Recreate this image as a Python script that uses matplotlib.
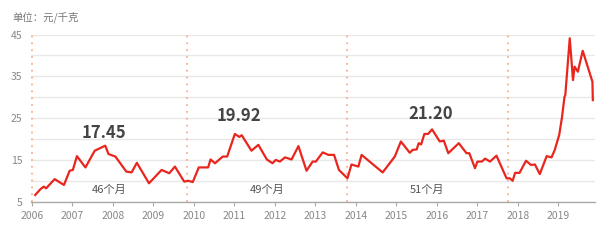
import matplotlib
matplotlib.use("Agg")
import matplotlib.pyplot as plt

plt.rcParams["font.family"] = ["Noto Sans CJK SC", "DejaVu Sans"]

# price series (decimal year, 元/千克)
years = [
    2006.08, 2006.21, 2006.29, 2006.35, 2006.56, 2006.79, 2006.93, 2007.01, 2007.11, 2007.18,
    2007.32, 2007.55, 2007.81, 2007.89, 2008.06, 2008.33, 2008.46, 2008.59, 2008.89, 2009.20,
    2009.39, 2009.53, 2009.76, 2009.86, 2009.97, 2010.12, 2010.35, 2010.41, 2010.52, 2010.71,
    2010.82, 2011.01, 2011.12, 2011.18, 2011.42, 2011.59, 2011.80, 2011.94, 2012.02, 2012.12,
    2012.25, 2012.41, 2012.58, 2012.78, 2012.93, 2013.01, 2013.18, 2013.32, 2013.46, 2013.58,
    2013.79, 2013.89, 2014.06, 2014.14, 2014.66, 2014.96, 2015.11, 2015.33, 2015.40, 2015.50,
    2015.55, 2015.61, 2015.69, 2015.78, 2015.88, 2016.07, 2016.17, 2016.28, 2016.54, 2016.73,
    2016.80, 2016.94, 2017.00, 2017.11, 2017.19, 2017.31, 2017.47, 2017.72, 2017.80, 2017.87,
    2017.93, 2018.04, 2018.20, 2018.32, 2018.42, 2018.54, 2018.71, 2018.83, 2018.91, 2019.02,
    2019.09, 2019.15, 2019.17, 2019.28, 2019.36, 2019.40, 2019.48, 2019.60, 2019.84, 2019.85,
]
prices = [
    6.6, 8.0, 8.6, 8.2, 10.4, 9.0, 12.4, 12.6, 15.9, 15.0,
    13.2, 17.2, 18.4, 16.4, 15.8, 12.2, 12.0, 14.3, 9.4, 12.6,
    11.8, 13.4, 9.8, 10.0, 9.7, 13.2, 13.2, 15.1, 14.2, 15.8,
    15.8, 21.2, 20.5, 20.9, 17.2, 18.6, 15.1, 14.2, 15.0, 14.6,
    15.6, 15.1, 18.3, 12.4, 14.6, 14.6, 16.8, 16.2, 16.2, 12.6,
    10.6, 13.9, 13.4, 16.2, 12.0, 15.8, 19.4, 16.7, 17.4, 17.5,
    19.0, 18.7, 21.2, 21.2, 22.3, 19.4, 19.6, 16.6, 19.0, 16.6,
    16.6, 13.0, 14.6, 14.6, 15.3, 14.6, 16.0, 10.6, 10.6, 10.0,
    11.9, 11.9, 14.8, 13.8, 13.9, 11.6, 15.9, 15.6, 17.4, 21.0,
    25.3, 30.1, 30.5, 44.1, 34.1, 37.3, 36.1, 41.1, 33.7, 29.3,
]

cycle_lines = [2006.0, 2009.82, 2013.77, 2017.75]
peak_labels = ["17.45", "19.92", "21.20"]
peak_pos = [(2007.78, 21.5), (2011.10, 25.5), (2015.84, 26.1)]
month_labels = ["46个月", "49个月", "51个月"]
month_pos = [(2007.91, 7.9), (2011.80, 7.8), (2015.75, 7.8)]
year_ticks = list(range(2006, 2020))
y_labels = [5, 15, 25, 35, 45]

fig = plt.figure(figsize=(6.07, 2.43), dpi=100)
ax = fig.add_axes([0.051, 0.17, 0.929, 0.688])

for v in range(5, 50, 5):
    ax.axhline(v, color="#e8e8e8", lw=1.0, zorder=0)
for x in cycle_lines:
    ax.axvline(x, color="#f6b094", lw=1.3, ls=(0, (1, 2.8)), zorder=1)

ax.plot(years, prices, color="#e8261e", lw=1.6, zorder=3)

for t, (x, y) in zip(peak_labels, peak_pos):
    ax.text(x, y, t, ha="center", va="center", fontsize=12, fontweight="bold", color="#444444")
for t, (x, y) in zip(month_labels, month_pos):
    ax.text(x, y, t, ha="center", va="center", fontsize=8, color="#555555")

ax.set_xlim(2005.975, 2019.9)
ax.set_ylim(5, 45)
ax.set_xticks(year_ticks)
ax.set_xticklabels([str(y) for y in year_ticks])
ax.set_yticks(y_labels)
ax.tick_params(axis="x", length=3, color="#aaaaaa", labelsize=7.5, labelcolor="#888888", pad=4)
ax.tick_params(axis="y", length=0, labelsize=7.5, labelcolor="#888888", pad=6)
for s in ["top", "right", "left"]:
    ax.spines[s].set_visible(False)
ax.spines["bottom"].set_color("#aaaaaa")
ax.spines["bottom"].set_linewidth(1.0)

fig.text(0.02, 0.93, "单位：元/千克", fontsize=7.5, color="#777777", va="center")

fig.savefig("out.png", dpi=100)
